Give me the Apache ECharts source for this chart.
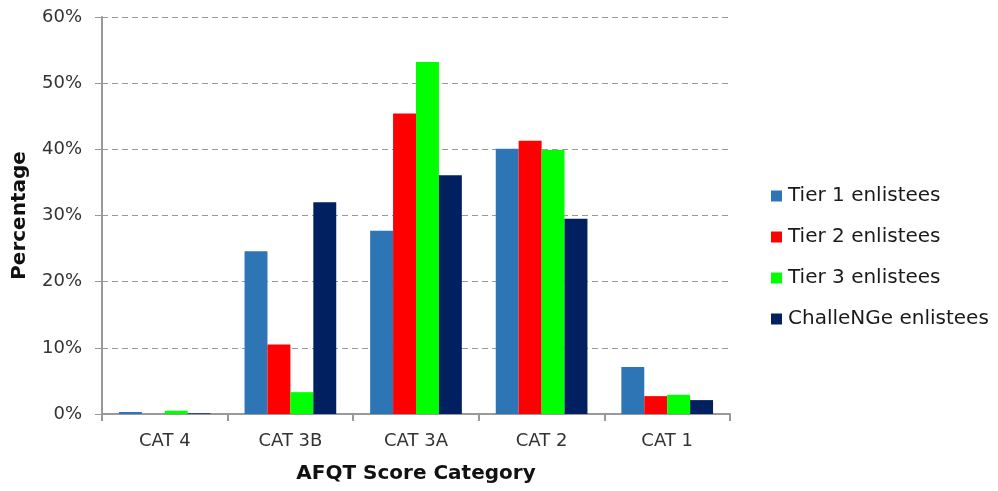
<!DOCTYPE html>
<html>
<head>
<meta charset="utf-8">
<script src="https://cdn.jsdelivr.net/npm/echarts@6/dist/echarts.min.js"></script>
<style>
	html, body { margin: 0; padding: 0; background: #fff; }
	#chart { width: 998px; height: 491px; }
</style>
</head>
<body>
<div id="chart"></div>
<script>
// categories and values (percent)
const categories = ['CAT 4', 'CAT 3B', 'CAT 3A', 'CAT 2', 'CAT 1'];
const tier1 = [0.3, 24.6, 27.7, 40.1, 7.1];
const tier2 = [0, 10.5, 45.4, 41.3, 2.7];
const tier3 = [0.5, 3.3, 53.2, 39.9, 2.9];
const challenge = [0.1, 32.0, 36.1, 29.5, 2.1];
const seriesNames = ['Tier 1 enlistees', 'Tier 2 enlistees', 'Tier 3 enlistees', 'ChalleNGe enlistees'];
const seriesColors = ['#2E75B6', '#FF0000', '#00FF00', '#002060'];

const font = '"DejaVu Sans", sans-serif';
const chart = echarts.init(document.getElementById('chart'));

const option = {
	animation: false,
	textStyle: { fontFamily: font },
	grid: { left: 102, right: 268, top: 17, bottom: 77 },
	legend: {
		orient: 'vertical',
		left: 771,
		top: 186,
		padding: 0,
		itemWidth: 11,
		itemHeight: 11,
		itemGap: 21,
		icon: 'rect',
		textStyle: { fontSize: 20, color: '#1a1a1a', fontFamily: font, padding: [0, 0, 0, 1] },
		data: seriesNames
	},
	xAxis: {
		type: 'category',
		data: categories,
		name: 'AFQT Score Category',
		nameLocation: 'middle',
		nameGap: 50,
		nameTextStyle: { fontSize: 20, fontWeight: 'bold', color: '#111' },
		axisLine: { lineStyle: { color: '#999', width: 2 } },
		axisTick: { show: true, length: 7, lineStyle: { color: '#999', width: 2 } },
		axisLabel: { fontSize: 18, color: '#333', margin: 18 }
	},
	yAxis: {
		type: 'value',
		min: 0,
		max: 60,
		interval: 10,
		name: 'Percentage',
		nameLocation: 'middle',
		nameGap: 72,
		nameTextStyle: { fontSize: 20, fontWeight: 'bold', color: '#111' },
		axisLine: { show: true, lineStyle: { color: '#999', width: 2 } },
		axisTick: { show: true, length: 7, lineStyle: { color: '#999' } },
		axisLabel: { fontSize: 18, color: '#333', margin: 20, formatter: '{value}%' },
		splitLine: { lineStyle: { type: [6, 4], color: '#999', width: 1 } }
	},
	series: [tier1, tier2, tier3, challenge].map((d, i) => ({
		name: seriesNames[i],
		type: 'bar',
		data: d,
		barGap: '0%',
		barCategoryGap: '27%',
		itemStyle: { color: seriesColors[i] }
	}))
};

chart.setOption(option);
</script>
</body>
</html>
